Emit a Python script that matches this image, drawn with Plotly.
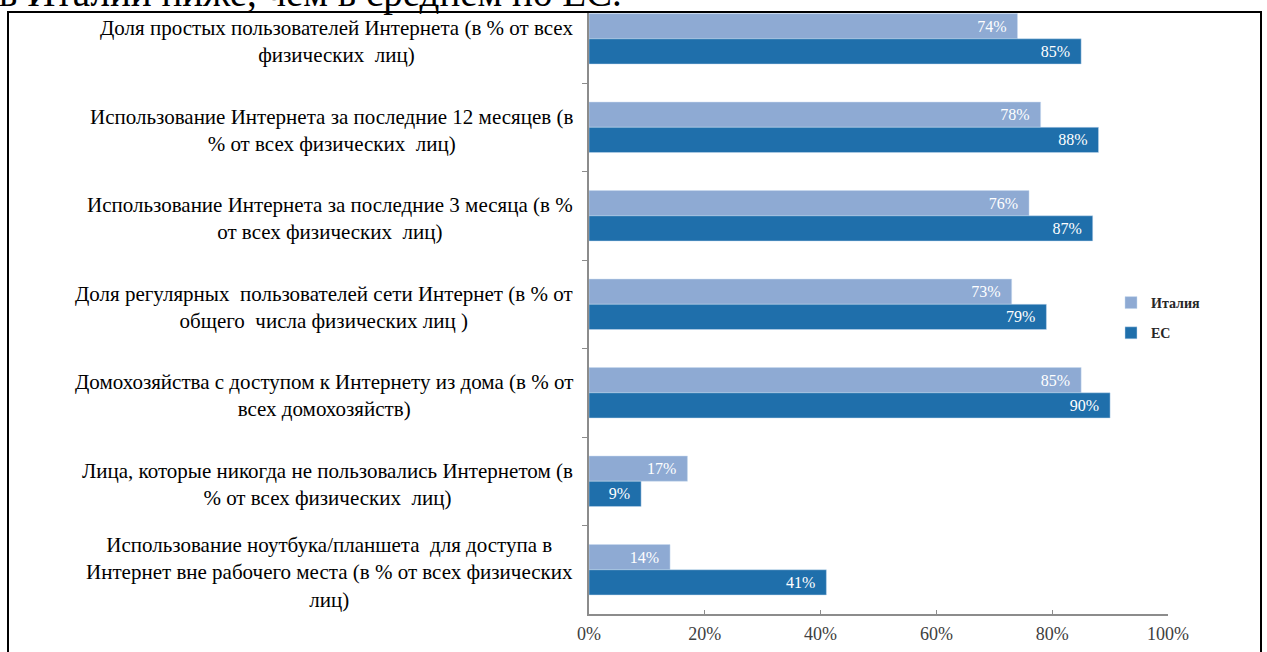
import plotly.graph_objects as go

categories = [
    "Доля простых пользователей Интернета (в % от всех<br>физических  лиц)",
    "Использование Интернета за последние 12 месяцев (в<br>% от всех физических  лиц)",
    "Использование Интернета за последние 3 месяца (в %<br>от всех физических  лиц)",
    "Доля регулярных  пользователей сети Интернет (в % от<br>общего  числа физических лиц )",
    "Домохозяйства с доступом к Интернету из дома (в % от<br>всех домохозяйств)",
    "Лица, которые никогда не пользовались Интернетом (в<br>% от всех физических  лиц)",
    "Использование ноутбука/планшета  для доступа в<br>Интернет вне рабочего места (в % от всех физических<br>лиц)",
]
italy = [74, 78, 76, 73, 85, 17, 14]
eu = [85, 88, 87, 79, 90, 9, 41]
series_names = ["Италия", "ЕС"]
x_ticks = [0, 20, 40, 60, 80, 100]
x_tick_labels = ["0%", "20%", "40%", "60%", "80%", "100%"]
heading = "в Италии ниже, чем в среднем по ЕС."

SERIF = "Liberation Serif, Times New Roman, serif"
C_IT = "#8eaad3"
C_EU = "#1f6fab"

W, H = 1267, 652
AX_L, AX_R, AX_T, AX_B = 589, 1168, 12, 614
L, R, T, B = AX_L, W - AX_R, AX_T, H - AX_B
pw = AX_R - AX_L
ph = AX_B - AX_T


def px_x(p):
    return (p - AX_L) / pw


def px_y(p):
    return (AX_B - p) / ph


fig = go.Figure()
for name, vals, col in [(series_names[0], italy, C_IT), (series_names[1], eu, C_EU)]:
    fig.add_trace(go.Bar(
        y=categories, x=vals, name=name, orientation="h",
        marker=dict(color=col, line=dict(color="rgba(200,220,240,0.6)", width=0.8)),
        text=[f"{v}%\u00a0\u00a0" for v in vals],
        textposition="inside", insidetextanchor="end",
        textfont=dict(family=SERIF, size=16, color="white"),
        legendgroup=name,
        hoverinfo="skip",
    ))

annotations = []
for c in categories:
    annotations.append(dict(
        xref="paper", yref="y", x=px_x(575), y=c, text=c,
        xanchor="right", yanchor="middle", align="center", showarrow=False,
        yshift=-3,
        font=dict(family=SERIF, size=21, color="black"),
    ))
annotations.append(dict(
    xref="paper", yref="paper", x=px_x(-3), y=1, text=heading,
    xanchor="left", yanchor="bottom", yshift=-5, showarrow=False,
    font=dict(family=SERIF, size=39, color="black"),
))

fig.update_layout(
    width=W, height=H,
    margin=dict(l=L, r=R, t=T, b=B, pad=0),
    paper_bgcolor="white", plot_bgcolor="white",
    barmode="group", bargap=0.43, bargroupgap=0.0,
    showlegend=True,
    legend=dict(
        x=px_x(1111), y=px_y(287), xanchor="left", yanchor="top",
        font=dict(family=SERIF, size=14, color="#262626", weight="bold"),
        tracegroupgap=9, traceorder="grouped", bgcolor="rgba(0,0,0,0)",
    ),
    xaxis=dict(
        range=[0, 100], tickvals=x_ticks, ticktext=x_tick_labels,
        showgrid=False, zeroline=False, showline=True, linecolor="#8c8c8c", linewidth=1.5,
        ticks="inside", ticklen=4, tickcolor="#8c8c8c",
        tickfont=dict(family=SERIF, size=18, color="#404040"),
        ticklabelstandoff=3, automargin=False,
        fixedrange=True,
    ),
    yaxis=dict(
        type="category", range=[6.5, -0.303], showticklabels=False,
        showgrid=False, zeroline=False, showline=True, linecolor="#8c8c8c", linewidth=1.5,
        ticks="outside", ticklen=5, tickcolor="#8c8c8c", tickson="boundaries",
        automargin=False, fixedrange=True,
    ),
    annotations=annotations,
    shapes=[dict(
        type="rect", xref="paper", yref="paper",
        x0=px_x(8), x1=px_x(1261), y0=px_y(700), y1=px_y(12),
        line=dict(color="black", width=2), fillcolor="rgba(0,0,0,0)", layer="above",
    )],
)

fig.write_html("out.html", config={"displayModeBar": False},
               post_script="document.body.style.margin='0px';")
